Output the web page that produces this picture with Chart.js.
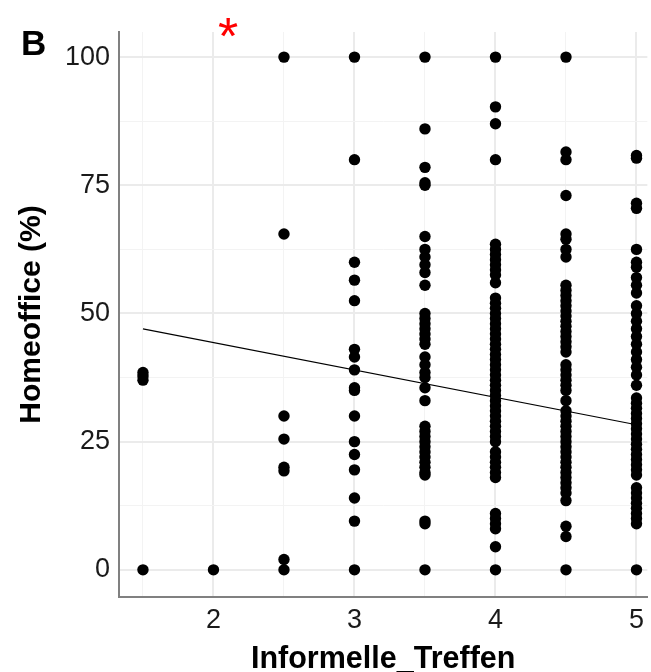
<!DOCTYPE html>
<html>
<head>
<meta charset="utf-8">
<script src="https://cdn.jsdelivr.net/npm/chart.js@4.4.1/dist/chart.umd.min.js"></script>
<style>
  html, body { margin: 0; padding: 0; background: #fff; }
  #wrap { width: 651px; height: 672px; }
</style>
</head>
<body>
<div id="wrap"><canvas id="c" width="651" height="672"></canvas></div>
<script>
// x levels of Informelle_Treffen and the Homeoffice (%) values seen at each
const xLevels = [1.5, 2, 2.5, 3, 3.5, 4, 4.5, 5];

const yAt15 = [38.5, 37.8, 37, 0];
const yAt2 = [0];
const yAt25 = [100, 65.5, 30, 25.5, 20, 19.3, 2, 0];
const yAt3 = [100, 80, 60, 56.5, 52.5, 43, 41.5, 39, 35.5, 35, 30, 25, 22.5, 19.5, 14, 9.5, 0];
const yAt35 = [100, 86, 78.5, 75.5, 75, 65, 62.5, 61, 59.5, 58, 55.5, 50, 49, 48, 47, 46, 45, 44,
  41.5, 40, 38.5, 37.5, 35.5, 33, 28, 27, 26, 25, 24, 23, 22, 21, 20, 19, 18.5, 9.5, 9, 0];
const yAt4 = [100, 90.3, 87, 80, 63.5, 62.5, 61.5, 60.5, 59.5, 58.5, 57.5, 56, 53, 52, 51, 50, 49, 48,
  47, 46, 45, 44, 43, 42, 41, 40, 39, 38, 37, 36, 35, 34, 33, 32, 31, 30, 29, 28, 27, 26, 25,
  23, 22, 21, 20, 19, 18, 11, 10, 9, 8, 4.5, 0];
const yAt45 = [100, 81.5, 80, 73, 65.5, 64.5, 62.5, 61, 55.5, 54.5, 53.5, 52.5, 51.5, 50.5, 49.5, 48.5,
  47.5, 46.5, 45.5, 44.5, 43.5, 42.5, 40, 39, 38, 37, 36, 35, 33, 31, 30, 29, 28, 27, 26, 25, 24,
  23, 22, 21, 20, 19, 18, 17, 16, 15, 13.5, 8.5, 6.5, 0];
const yAt5 = [80.8, 80.3, 71.5, 70.5, 62.5, 60, 59, 57, 55.5, 54, 51.5, 50, 48.5, 47, 45.5, 44, 42.5,
  41, 39.5, 38, 36, 33.5, 32.5, 31.5, 30.5, 29.5, 28.5, 27.5, 26.5, 25.5, 24.5, 23.5, 22.5, 21.5,
  20.5, 19.5, 18.5, 16, 15, 14, 13, 12, 11, 10, 9, 0];

const columns = [yAt15, yAt2, yAt25, yAt3, yAt35, yAt4, yAt45, yAt5];

// fitted regression line (ends)
const fitX = [1.5, 5];
const fitY = [47, 28.3];

// axis ticks (major get labels, minor only grid lines)
const xTicks = [1.5, 2, 2.5, 3, 3.5, 4, 4.5, 5];
const yTicks = [0, 12.5, 25, 37.5, 50, 62.5, 75, 87.5, 100];

const points = [];
columns.forEach((ys, i) => ys.forEach(y => points.push({ x: xLevels[i], y })));

const FONT = '"Liberation Sans", Arial, sans-serif';

const annotations = {
  id: 'annotations',
  afterDraw(chart) {
    const { ctx } = chart;
    ctx.save();
    ctx.fillStyle = '#000';
    ctx.font = 'bold 35px ' + FONT;
    ctx.textAlign = 'left';
    ctx.textBaseline = 'alphabetic';
    ctx.fillText('B', 21, 55);
    ctx.fillStyle = '#ff0000';
    ctx.font = '52px ' + FONT;
    ctx.textAlign = 'center';
    ctx.fillText('*', 228, 54);
    ctx.restore();
  }
};

new Chart(document.getElementById('c'), {
  type: 'scatter',
  data: {
    datasets: [
      {
        data: points,
        backgroundColor: '#000',
        borderWidth: 0,
        pointRadius: 5.7,
        pointHoverRadius: 5.7,
      },
      {
        data: fitX.map((x, i) => ({ x, y: fitY[i] })),
        showLine: true,
        borderColor: '#000',
        borderWidth: 1.2,
        pointRadius: 0,
        fill: false,
      },
    ],
  },
  options: {
    responsive: false,
    animation: false,
    layout: { autoPadding: false, padding: { top: 32, right: 0, left: 0, bottom: 0 } },
    plugins: { legend: { display: false }, tooltip: { enabled: false } },
    scales: {
      x: {
        type: 'linear',
        min: 1.33,
        max: 5.077,
        afterBuildTicks: s => { s.ticks = xTicks.map(v => ({ value: v })); },
        afterFit: s => { s.height = 75; },
        ticks: {
          color: '#1a1a1a',
          font: { family: FONT, size: 27 },
          padding: 7,
          maxRotation: 0,
          autoSkip: false,
          callback: v => (Number.isInteger(v) ? String(v) : ''),
        },
        grid: {
          drawTicks: false,
          color: c => (c.tick && Number.isInteger(c.tick.value) ? '#ebebeb' : '#f3f3f3'),
          lineWidth: c => (c.tick && Number.isInteger(c.tick.value) ? 2 : 1),
        },
        border: { display: true, color: '#808080', width: 2 },
        title: {
          display: true,
          text: 'Informelle_Treffen',
          color: '#000',
          font: { family: FONT, size: 30.5, weight: 'bold', lineHeight: 1 },
          padding: { top: 0, bottom: -3 },
        },
      },
      y: {
        type: 'linear',
        min: -5.3,
        max: 104.9,
        afterBuildTicks: s => { s.ticks = yTicks.map(v => ({ value: v })); },
        afterFit: s => { s.width = 119; },
        ticks: {
          color: '#1a1a1a',
          font: { family: FONT, size: 27 },
          padding: 9,
          autoSkip: false,
          callback: v => (v % 25 === 0 ? String(v) : ''),
        },
        grid: {
          drawTicks: false,
          color: c => (c.tick && c.tick.value % 25 === 0 ? '#ebebeb' : '#f3f3f3'),
          lineWidth: c => (c.tick && c.tick.value % 25 === 0 ? 2 : 1),
        },
        border: { display: true, color: '#808080', width: 2 },
        title: {
          display: true,
          text: 'Homeoffice (%)',
          color: '#000',
          font: { family: FONT, size: 30, weight: 'bold', lineHeight: 1 },
          padding: { top: 17, bottom: 0 },
        },
      },
    },
  },
  plugins: [annotations],
});
</script>
</body>
</html>
